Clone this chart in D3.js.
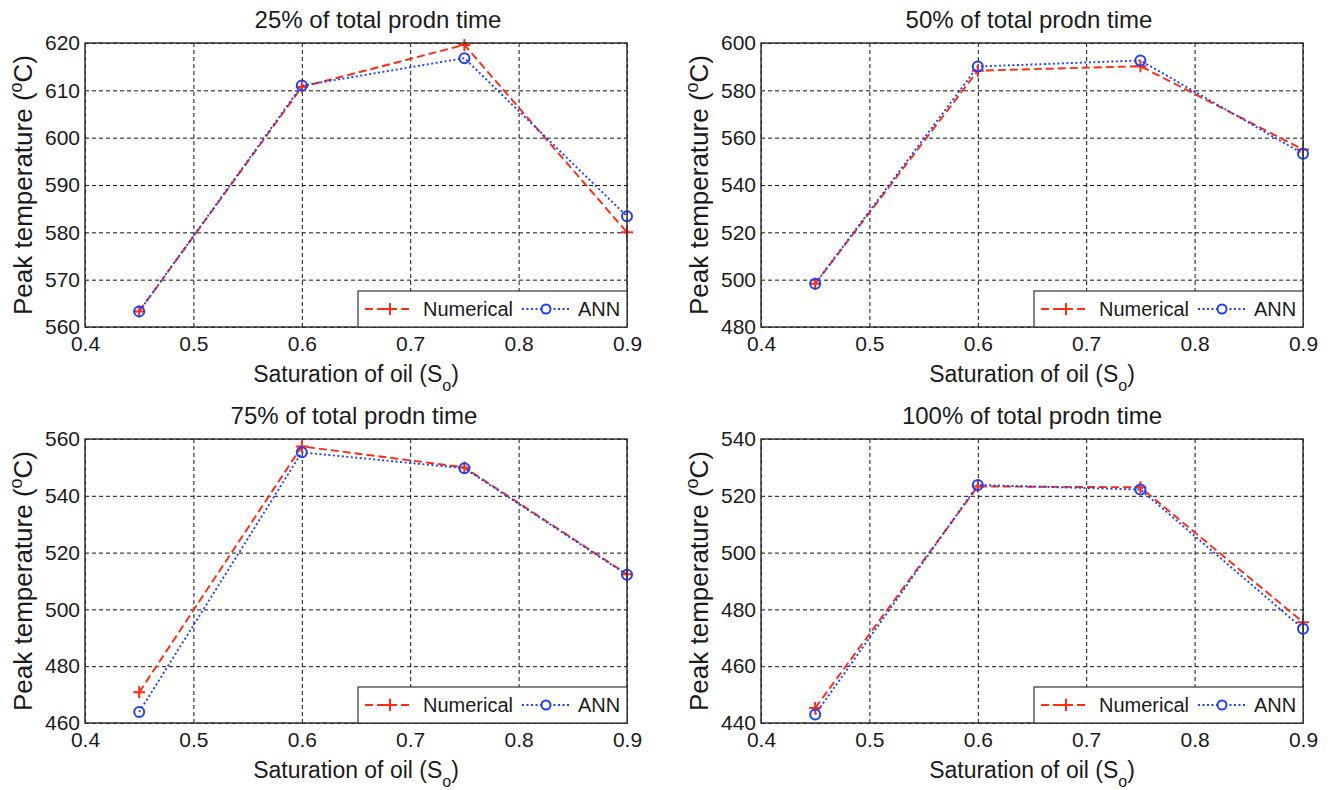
<!DOCTYPE html>
<html>
<head>
<meta charset="utf-8">
<script src="https://cdn.jsdelivr.net/npm/d3@7"></script>
<style>
body { margin: 0; background: #fff; }
text { font-family: "Liberation Sans", Arial, sans-serif; fill: #1a1a1a; }
</style>
</head>
<body>
<svg id="chart" width="1331" height="790"></svg>
<script>
// saturation of oil at which the runs were made
var saturation = [0.45, 0.6, 0.75, 0.9];
var xTicks = [0.4, 0.5, 0.6, 0.7, 0.8, 0.9];

var titles = ["25% of total prodn time", "50% of total prodn time",
              "75% of total prodn time", "100% of total prodn time"];

// peak temperature (C)
var numerical25 = [563.3, 610.7, 619.6, 580.0];
var ann25       = [563.3, 611.0, 616.8, 583.4];
var numerical50 = [498.3, 588.3, 590.2, 555.0];
var ann50       = [498.3, 590.1, 592.6, 553.2];
var numerical75 = [470.8, 557.4, 550.0, 512.4];
var ann75       = [463.9, 555.3, 549.7, 512.2];
var numerical100 = [445.3, 523.3, 523.0, 475.5];
var ann100       = [443.0, 523.8, 522.2, 473.2];

var yTicks25  = [560, 570, 580, 590, 600, 610, 620];
var yTicks50  = [480, 500, 520, 540, 560, 580, 600];
var yTicks75  = [460, 480, 500, 520, 540, 560];
var yTicks100 = [440, 460, 480, 500, 520, 540];

var panels = [
  { title: titles[0], num: numerical25,  ann: ann25,  ticks: yTicks25,  left: 85,  top: 43,  titleDx: 22 },
  { title: titles[1], num: numerical50,  ann: ann50,  ticks: yTicks50,  left: 761, top: 43,  titleDx: -3 },
  { title: titles[2], num: numerical75,  ann: ann75,  ticks: yTicks75,  left: 85,  top: 439, titleDx: -2 },
  { title: titles[3], num: numerical100, ann: ann100, ticks: yTicks100, left: 761, top: 439, titleDx: 0 }
];

var width = 542, height = 284;
var red = "#ff2a10", blue = "#1f3fff";

var svg = d3.select("#chart");

panels.forEach(function(p) {
  var g = svg.append("g").attr("transform", "translate(" + p.left + "," + p.top + ")");

  var x = d3.scaleLinear().domain([0.4, 0.9]).range([0, width]);
  var y = d3.scaleLinear().domain(d3.extent(p.ticks)).range([height, 0]);

  // grid + tick labels
  var xAxis = g.append("g")
      .attr("transform", "translate(0," + height + ")")
      .call(d3.axisBottom(x).tickValues(xTicks).tickSize(-height).tickPadding(9)
              .tickFormat(d3.format("")));
  var yAxis = g.append("g")
      .call(d3.axisLeft(y).tickValues(p.ticks).tickSize(-width).tickPadding(5));

  [xAxis, yAxis].forEach(function(a) {
    a.select(".domain").remove();
    a.selectAll("line")
        .attr("stroke", "#111")
        .attr("stroke-dasharray", "4,3");
    a.selectAll("text")
        .attr("font-size", 21)
        .attr("fill", "#1a1a1a");
  });

  var line = d3.line()
      .x(function(d, i) { return x(saturation[i]); })
      .y(function(d) { return y(d); });

  g.append("path")
      .datum(p.num)
      .attr("fill", "none")
      .attr("stroke", red)
      .attr("stroke-width", 1.9)
      .attr("stroke-dasharray", "8,4")
      .attr("d", line);

  g.append("path")
      .datum(p.ann)
      .attr("fill", "none")
      .attr("stroke", blue)
      .attr("stroke-width", 1.9)
      .attr("stroke-dasharray", "2,2.5")
      .attr("d", line);

  // markers
  g.selectAll(".plus")
      .data(p.num)
    .enter().append("path")
      .attr("class", "plus")
      .attr("d", function(d, i) {
        var cx = x(saturation[i]), cy = y(d), s = 6;
        return "M" + (cx - s) + "," + cy + "H" + (cx + s) + "M" + cx + "," + (cy - s) + "V" + (cy + s);
      })
      .attr("stroke", red)
      .attr("stroke-width", 2);

  g.selectAll(".ring")
      .data(p.ann)
    .enter().append("circle")
      .attr("class", "ring")
      .attr("cx", function(d, i) { return x(saturation[i]); })
      .attr("cy", function(d) { return y(d); })
      .attr("r", 5)
      .attr("fill", "none")
      .attr("stroke", blue)
      .attr("stroke-width", 2);

  // axes box
  g.append("rect")
      .attr("width", width)
      .attr("height", height)
      .attr("fill", "none")
      .attr("stroke", "#333")
      .attr("stroke-width", 1.5);

  // legend in the lower right corner
  var lw = 269, lh = 36;
  var leg = g.append("g").attr("transform", "translate(" + (width - lw) + "," + (height - lh) + ")");
  leg.append("rect")
      .attr("width", lw)
      .attr("height", lh)
      .attr("fill", "#fff")
      .attr("stroke", "#333")
      .attr("stroke-width", 1.2);
  var ly = lh / 2;
  leg.append("line")
      .attr("x1", 7).attr("x2", 55).attr("y1", ly).attr("y2", ly)
      .attr("stroke", red).attr("stroke-width", 2).attr("stroke-dasharray", "8,4");
  leg.append("path")
      .attr("d", "M26," + ly + "H38M32," + (ly - 6) + "V" + (ly + 6))
      .attr("stroke", red).attr("stroke-width", 2);
  leg.append("text")
      .attr("x", 65).attr("y", ly).attr("dy", "0.36em")
      .attr("font-size", 20)
      .text("Numerical");
  leg.append("line")
      .attr("x1", 164).attr("x2", 212).attr("y1", ly).attr("y2", ly)
      .attr("stroke", blue).attr("stroke-width", 2).attr("stroke-dasharray", "2,2.5");
  leg.append("circle")
      .attr("cx", 188).attr("cy", ly).attr("r", 4.5)
      .attr("fill", "#fff").attr("stroke", blue).attr("stroke-width", 2);
  leg.append("text")
      .attr("x", 220).attr("y", ly).attr("dy", "0.36em")
      .attr("font-size", 20)
      .text("ANN");

  // title
  g.append("text")
      .attr("x", width / 2 + p.titleDx)
      .attr("y", -15)
      .attr("text-anchor", "middle")
      .attr("font-size", 24)
      .text(p.title);

  // x label with subscript
  var xl = g.append("text")
      .attr("transform", "translate(" + (width / 2) + "," + (height + 55) + ") scale(1,1.08)")
      .attr("text-anchor", "middle")
      .attr("font-size", 23);
  xl.append("tspan").text("Saturation of oil (S");
  xl.append("tspan").attr("dy", 8).attr("font-size", 16).text("o");
  xl.append("tspan").attr("dy", -8).text(")");

  // y label with superscript
  var yl = g.append("text")
      .attr("transform", "translate(-53," + (height / 2) + ") rotate(-90)")
      .attr("text-anchor", "middle")
      .attr("font-size", 26);
  yl.append("tspan").text("Peak temperature (");
  yl.append("tspan").attr("dy", -10).attr("font-size", 18).text("o");
  yl.append("tspan").attr("dy", 10).text("C)");
});
</script>
</body>
</html>
